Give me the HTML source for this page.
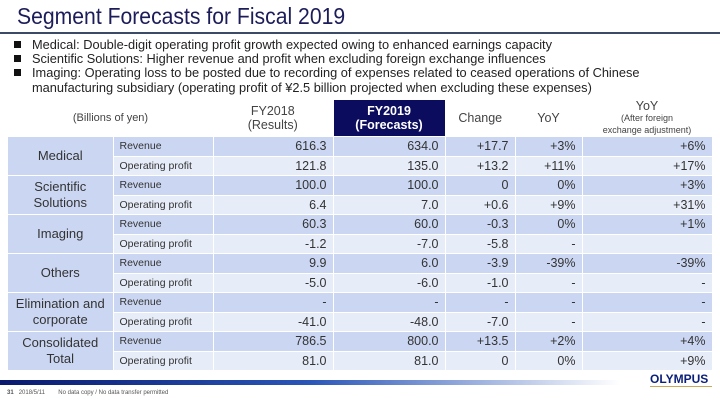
<!DOCTYPE html>
<html><head><meta charset="utf-8"><style>
body{margin:0;width:720px;height:401px;background:#fff;font-family:"Liberation Sans",sans-serif;position:relative;overflow:hidden}
.abs{position:absolute}
#title{left:17px;top:3px;font-size:23px;color:#1c1c5a;transform:scaleX(0.92);transform-origin:left}
#rule{left:0;top:32px;width:720px;height:2px;background:#3b4a66}
.bul{left:14px;font-size:12.8px;color:#222;white-space:nowrap}
.bul span.sq{display:inline-block;width:7px;height:7px;background:#111;margin-right:11px;vertical-align:1px}
table{position:absolute;left:8px;top:99px;border-collapse:collapse;font-size:12.5px;color:#333}
td{padding:0 6px;height:18.5px;line-height:14px;border-bottom:1px solid #fff;border-right:1px solid #fff;box-sizing:border-box}
tr{height:19.5px}
.h{height:37px}
.h td{height:37px;text-align:center;color:#444;background:#fff;border:none;line-height:14px}
.cat{background:#c6d4f1;text-align:center;font-size:13px;line-height:16px}
.rev td{background:#cbd7f2}
.op td{background:#e6ecf8}
td.lab{font-size:10.5px;text-align:left}
td.num{text-align:right}
</style></head><body>
<div id="title" class="abs">Segment Forecasts for Fiscal 2019</div>
<div id="rule" class="abs"></div>
<div class="abs bul" style="top:37px"><span class="sq"></span>Medical: Double-digit operating profit growth expected owing to enhanced earnings capacity</div>
<div class="abs bul" style="top:51px"><span class="sq"></span>Scientific Solutions: Higher revenue and profit when excluding foreign exchange influences</div>
<div class="abs bul" style="top:65px"><span class="sq"></span>Imaging: Operating loss to be posted due to recording of expenses related to ceased operations of Chinese<br><span style="margin-left:18px">manufacturing subsidiary (operating profit of ¥2.5 billion projected when excluding these expenses)</span></div>
<table>
<colgroup><col style="width:105px"><col style="width:100px"><col style="width:120px"><col style="width:112px"><col style="width:70px"><col style="width:67px"><col style="width:130px"></colgroup>
<tr class="h"><td colspan="2" style="font-size:11px">(Billions of yen)</td><td>FY2018<br>(Results)</td><td style="background:#0c0c5e;color:#fff;font-weight:bold;border:1px solid #fff">FY2019<br>(Forecasts)</td><td>Change</td><td>YoY</td><td style="font-size:12.5px;line-height:11px">YoY<br><span style="font-size:9px">(After foreign<br>exchange adjustment)</span></td></tr>
<tr class="rev"><td class="cat" rowspan="2">Medical</td><td class="lab">Revenue</td><td class="num">616.3</td><td class="num">634.0</td><td class="num">+17.7</td><td class="num">+3%</td><td class="num">+6%</td></tr>
<tr class="op"><td class="lab">Operating profit</td><td class="num">121.8</td><td class="num">135.0</td><td class="num">+13.2</td><td class="num">+11%</td><td class="num">+17%</td></tr>
<tr class="rev"><td class="cat" rowspan="2">Scientific<br>Solutions</td><td class="lab">Revenue</td><td class="num">100.0</td><td class="num">100.0</td><td class="num">0</td><td class="num">0%</td><td class="num">+3%</td></tr>
<tr class="op"><td class="lab">Operating profit</td><td class="num">6.4</td><td class="num">7.0</td><td class="num">+0.6</td><td class="num">+9%</td><td class="num">+31%</td></tr>
<tr class="rev"><td class="cat" rowspan="2">Imaging</td><td class="lab">Revenue</td><td class="num">60.3</td><td class="num">60.0</td><td class="num">-0.3</td><td class="num">0%</td><td class="num">+1%</td></tr>
<tr class="op"><td class="lab">Operating profit</td><td class="num">-1.2</td><td class="num">-7.0</td><td class="num">-5.8</td><td class="num">-</td><td class="num"></td></tr>
<tr class="rev"><td class="cat" rowspan="2">Others</td><td class="lab">Revenue</td><td class="num">9.9</td><td class="num">6.0</td><td class="num">-3.9</td><td class="num">-39%</td><td class="num">-39%</td></tr>
<tr class="op"><td class="lab">Operating profit</td><td class="num">-5.0</td><td class="num">-6.0</td><td class="num">-1.0</td><td class="num">-</td><td class="num">-</td></tr>
<tr class="rev"><td class="cat" rowspan="2">Elimination and<br>corporate</td><td class="lab">Revenue</td><td class="num">-</td><td class="num">-</td><td class="num">-</td><td class="num">-</td><td class="num">-</td></tr>
<tr class="op"><td class="lab">Operating profit</td><td class="num">-41.0</td><td class="num">-48.0</td><td class="num">-7.0</td><td class="num">-</td><td class="num">-</td></tr>
<tr class="rev"><td class="cat" rowspan="2">Consolidated<br>Total</td><td class="lab">Revenue</td><td class="num">786.5</td><td class="num">800.0</td><td class="num">+13.5</td><td class="num">+2%</td><td class="num">+4%</td></tr>
<tr class="op"><td class="lab">Operating profit</td><td class="num">81.0</td><td class="num">81.0</td><td class="num">0</td><td class="num">0%</td><td class="num">+9%</td></tr>
</table>
<div class="abs" style="left:0;top:380px;width:620px;height:5px;background:linear-gradient(90deg,#0a1a6e,#2a56b8 50%,#fff)"></div>
<div class="abs" style="left:650px;top:372px;font-size:12px;font-weight:bold;color:#0a1f7a">OLYMPUS</div>
<div class="abs" style="left:650px;top:386px;width:62px;height:1px;background:#c9a85a"></div>
<div class="abs" style="left:7px;top:390px;font-size:6px;color:#555;white-space:nowrap"><b>31</b>&nbsp;&nbsp;&nbsp;2018/5/11&nbsp;&nbsp;&nbsp;&nbsp;&nbsp;&nbsp;&nbsp;&nbsp;No data copy / No data transfer permitted</div>
</body></html>
